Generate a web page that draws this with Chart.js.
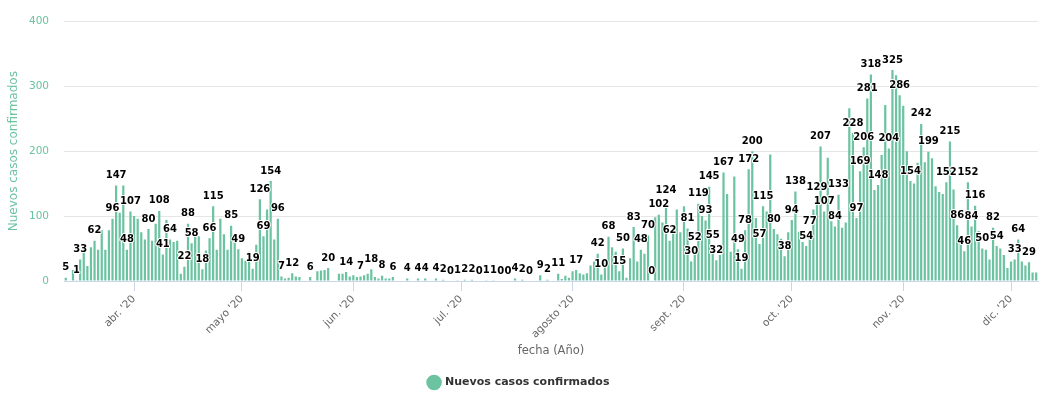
<!DOCTYPE html>
<html>
<head>
<meta charset="utf-8">
<script src="https://cdn.jsdelivr.net/npm/chart.js@4.4.1/dist/chart.umd.min.js"></script>
<style>
  html, body { margin: 0; padding: 0; background: #fff; }
  #wrap { width: 1046px; height: 396px; }
</style>
</head>
<body>
<div id="wrap"><canvas id="casesChart"></canvas></div>
<script>
// Daily new confirmed cases, one array per month (series starts 13 March 2020, null = no report)
const startDate = '2020-03-13';
const casesMar = [5, 0, 17, 1, 33, 58, 23, 52, 62, 48, 78, 48, 78, 96, 147, 105, 147, 48, 107];
const casesApr = [100, 96, 75, 64, 80, 62, 88, 108, 41, 94, 64, 60, 62, 11, 22, 88, 58, 71, 69, 18, 47, 66, 115, 48, 96, 72, 48, 85, 66, 49];
const casesMay = [35, 31, 45, 19, 56, 126, 69, 110, 154, 64, 96, 7, 4, 5, 12, 7, 6, null, 0, 6, 0, 15, 16, 17, 20, null, null, 11, 11, 14, 7];
const casesJun = [9, 6, 7, 9, 11, 18, 6, 4, 8, 4, 4, 6, 0, null, 0, 4, 0, 0, 4, 0, 4, 0, 0, 4, 0, 2, 0, 0, 0, 1];
const casesJul = [0, 2, 0, 2, 0, 0, 0, 1, 0, 1, 0, 0, 0, 0, 0, 4, 0, 2, 0, 0, 0, 0, 9, 0, 2, 0, 0, 11, 3, 8, 5];
const casesAug = [15, 17, 12, 10, 12, 24, 30, 42, 10, 30, 68, 52, 45, 15, 50, 5, 35, 83, 30, 48, 42, 70, 0, 98, 102, 90, 124, 62, 85, 110, 75];
const casesSep = [115, 81, 30, 52, 119, 100, 93, 145, 55, 32, 40, 167, 134, 45, 161, 49, 19, 78, 172, 200, 97, 57, 115, 107, 195, 80, 72, 65, 38, 75];
const casesOct = [94, 138, 76, 60, 54, 77, 110, 129, 207, 107, 190, 92, 84, 133, 82, 90, 266, 228, 97, 169, 206, 281, 318, 140, 148, 194, 271, 204, 325, 317, 286];
const casesNov = [270, 200, 154, 150, 182, 242, 183, 199, 189, 146, 137, 134, 152, 215, 141, 86, 68, 46, 152, 84, 116, 77, 50, 48, 33, 82, 54, 50, 40, 20];
const casesDic = [30, 33, 64, 30, 24, 29, 13, 13];

// x axis tick labels, one per month start from April
const monthTicks = ["abr. '20", "mayo '20", "jun. '20", "jul. '20", "agosto '20", "sept. '20", "oct. '20", "nov. '20", "dic. '20"];

const cases = [].concat(casesMar, casesApr, casesMay, casesJun, casesJul, casesAug, casesSep, casesOct, casesNov, casesDic);

// one category per day
const days = [];
const d0 = new Date(startDate + 'T00:00:00Z');
for (let i = 0; i < cases.length; i++) {
  const d = new Date(d0.getTime() + i * 86400000);
  days.push(d.toISOString().slice(0, 10));
}

const green = '#6cc3a1';
const fontFamily = '"DejaVu Sans", Verdana, sans-serif';

// value labels above the bars, hidden when they collide (taller bars win)
const barValues = {
  id: 'barValues',
  afterDatasetsDraw(chart) {
    const ctx = chart.ctx;
    const meta = chart.getDatasetMeta(0);
    const values = chart.data.datasets[0].data;
    ctx.save();
    ctx.font = 'bold 10px ' + fontFamily;
    const items = [];
    meta.data.forEach((bar, i) => {
      if (values[i] === null) return;
      const text = String(values[i]);
      const w = ctx.measureText(text).width;
      const cy = bar.y - 10;
      items.push({ text, rank: bar.base - bar.y, cx: bar.x, cy, x: bar.x - w / 2, y: cy - 6.5, w, h: 13 });
    });
    const order = items.slice().sort((a, b) => b.rank - a.rank);
    const kept = [];
    order.forEach(it => {
      const hit = kept.some(k => !(it.x >= k.x + k.w || it.x + it.w <= k.x || it.y >= k.y + k.h || it.y + it.h <= k.y));
      if (!hit) kept.push(it);
    });
    ctx.textAlign = 'center';
    ctx.textBaseline = 'middle';
    ctx.lineJoin = 'round';
    kept.forEach(it => {
      ctx.lineWidth = 2;
      ctx.strokeStyle = '#fff';
      ctx.strokeText(it.text, it.cx, it.cy);
      ctx.fillStyle = '#000';
      ctx.fillText(it.text, it.cx, it.cy);
    });
    ctx.restore();
  }
};

new Chart(document.getElementById('casesChart'), {
  type: 'bar',
  data: {
    labels: days,
    datasets: [{
      label: 'Nuevos casos confirmados',
      data: cases,
      backgroundColor: green,
      borderWidth: 0,
      barPercentage: 0.62,
      categoryPercentage: 1
    }]
  },
  options: {
    responsive: true,
    maintainAspectRatio: false,
    animation: false,
    layout: { padding: { left: 0, right: 8, top: 20, bottom: -2 } },
    scales: {
      x: {
        offset: true,
        grid: { display: true, drawOnChartArea: false, color: '#ccd6eb', tickLength: 10, offset: false },
        border: { display: true, color: '#ccd6eb' },
        afterBuildTicks: (scale) => {
          scale.ticks = scale.ticks.filter(t => days[t.value].slice(8) === '01');
        },
        afterFit: (scale) => { scale.height = 86; },
        ticks: {
          autoSkip: false,
          minRotation: 45,
          maxRotation: 45,
          padding: 2,
          color: '#666',
          font: { family: fontFamily, size: 10.5 },
          callback: function (value) {
            const m = Number(days[value].slice(5, 7));
            return monthTicks[m - 4];
          }
        },
        title: {
          display: true,
          text: 'fecha (Año)',
          color: '#666',
          font: { family: fontFamily, size: 11.5 },
          padding: { top: 4, bottom: 9 }
        }
      },
      y: {
        min: 0,
        max: 400,
        grid: { color: '#e6e6e6', drawTicks: false },
        border: { display: false },
        afterFit: (scale) => { scale.width = 64; },
        ticks: {
          stepSize: 100,
          padding: 15,
          color: green,
          font: { family: fontFamily, size: 10.5 }
        },
        title: {
          display: true,
          text: 'Nuevos casos confirmados',
          color: green,
          font: { family: fontFamily, size: 12 },
          padding: { top: 7, bottom: 0 }
        }
      }
    },
    plugins: {
      legend: {
        position: 'bottom',
        labels: {
          usePointStyle: true,
          pointStyle: 'circle',
          boxWidth: 12,
          boxHeight: 12,
          padding: 10,
          color: '#333',
          font: { family: fontFamily, size: 11, weight: 'bold' }
        }
      },
      tooltip: { enabled: false }
    }
  },
  plugins: [barValues]
});
</script>
</body>
</html>
